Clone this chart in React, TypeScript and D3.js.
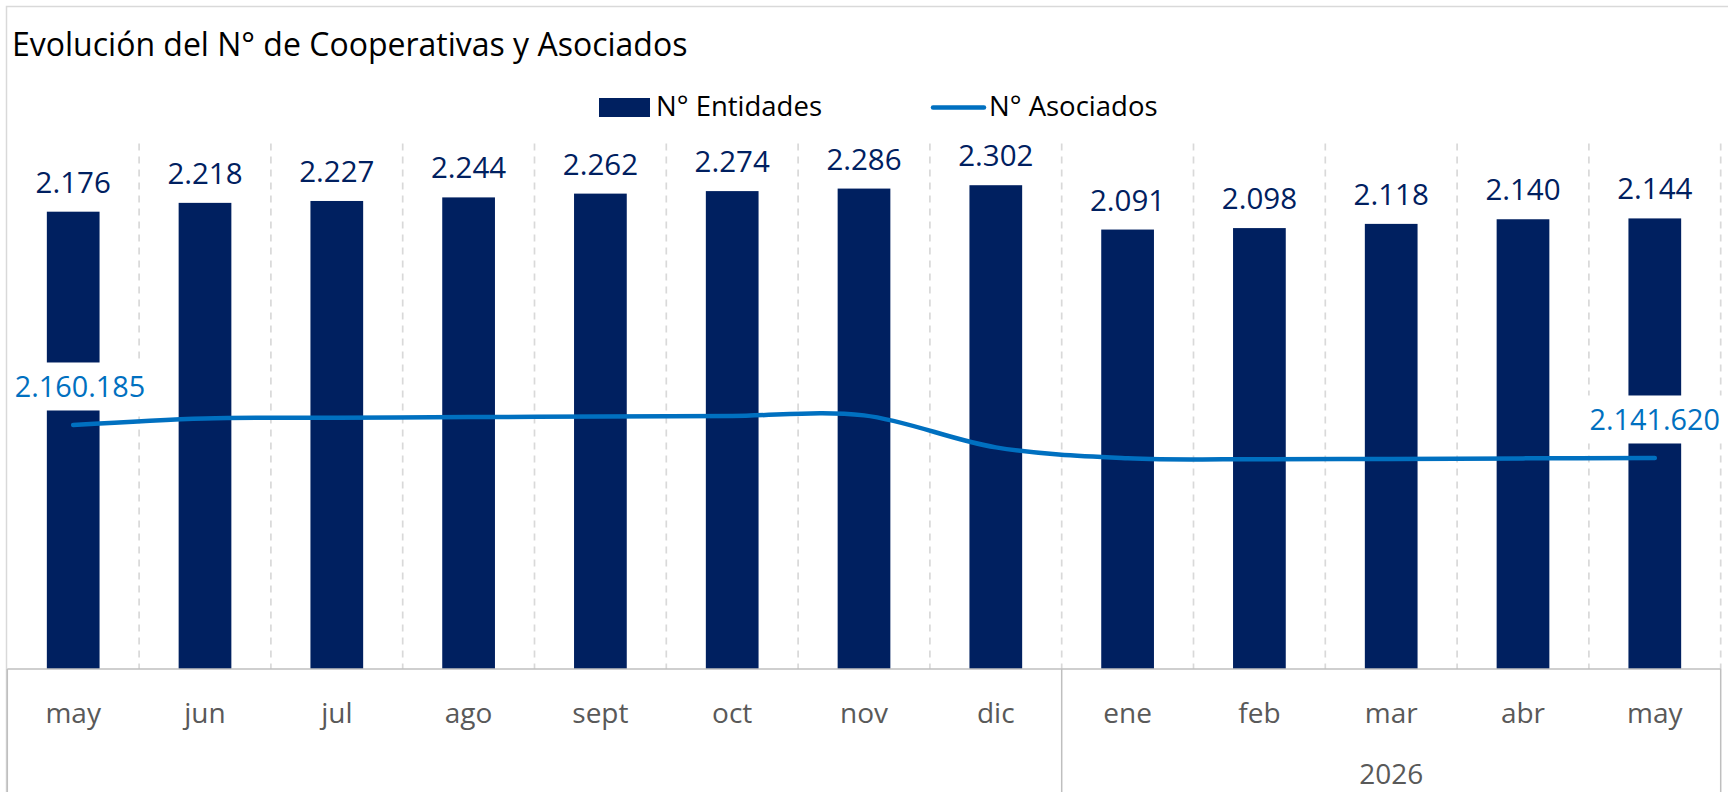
import React from 'react';
import * as d3 from 'd3';

const months = ['may', 'jun', 'jul', 'ago', 'sept', 'oct', 'nov', 'dic', 'ene', 'feb', 'mar', 'abr', 'may'];
const entidades = [2176, 2218, 2227, 2244, 2262, 2274, 2286, 2302, 2091, 2098, 2118, 2140, 2144];
const asociados = [2160185, 2163900, 2164300, 2164650, 2164900, 2165250, 2165600, 2147600, 2141500, 2140900, 2141100, 2141400, 2141620];
const yearGroups = [
  { label: '', start: 0, end: 7 },
  { label: '2026', start: 8, end: 12 },
];
const labeledPoints = [0, 12];
const title = 'Evolución del N° de Cooperativas y Asociados';
const legendBar = 'N° Entidades';
const legendLine = 'N° Asociados';

const W = 1728;
const H = 792;
const FONT = "'Open Sans', 'Noto Sans', sans-serif";
const NAVY = '#002060';
const BLUE = '#0070C0';

const fmt = d3.formatLocale({ decimal: ',', thousands: '.', grouping: [3], currency: ['', ''] }).format(',d');

export default function App() {
  const left = 7.3;
  const right = 1720.7;
  const top = 143.6;
  const bottom = 669;
  const idx = months.map((_, i) => i);

  const x = d3.scaleBand<number>().domain(idx).range([left, right]).paddingInner(0.6).paddingOuter(0.3);
  const xb = d3.scaleBand<number>().domain(idx).range([left, right]).padding(0);
  const y = d3.scaleLinear().domain([0, 2500]).range([bottom, top]);
  const y2 = d3.scaleLinear().domain([2022900, 2318500]).range([bottom, top]);
  const bw = x.bandwidth();
  const cx = (i: number) => (x(i) as number) + bw / 2;

  const line = d3
    .line<number>()
    .x((_, i) => cx(i))
    .y((d) => y2(d))
    .curve(d3.curveCardinal.tension(0));

  const boundaries = idx.slice(1).map((i) => xb(i) as number).concat([right]);
  const dividers = yearGroups.map((g) => xb(g.start) as number).concat([right]);

  const labelBoxW = 140;
  return (
    <svg width={W} height={H} style={{ position: 'absolute', left: 0, top: 0, background: '#fff' }} fontFamily={FONT}>
      <rect x={0} y={0} width={W} height={H} fill="#fff" />
      <rect x={6.5} y={6.5} width={W + 100} height={H + 100} fill="none" stroke="#d9d9d9" strokeWidth={1.5} />
      <text x={12} y={56} fontSize={32} fill="#000">{title}</text>

      {/* legend */}
      <rect x={599} y={98} width={51} height={19} fill={NAVY} />
      <text x={656} y={116} fontSize={27.5} fill="#000">{legendBar}</text>
      <line x1={933} x2={984} y1={107.5} y2={107.5} stroke={BLUE} strokeWidth={4.5} strokeLinecap="round" />
      <text x={989} y={116} fontSize={27.5} fill="#000">{legendLine}</text>

      {/* gridlines */}
      {boundaries.map((bx, i) => (
        <line key={'g' + i} x1={bx} x2={bx} y1={top} y2={bottom} stroke="#d9d9d9" strokeWidth={1.7} strokeDasharray="7,6" />
      ))}

      {/* bars */}
      {entidades.map((v, i) => (
        <rect key={'b' + i} x={x(i)} y={y(v)} width={bw} height={bottom - y(v)} fill={NAVY} />
      ))}

      {/* bar labels */}
      {entidades.map((v, i) => (
        <text key={'bl' + i} x={cx(i)} y={y(v) - 19} fontSize={29.5} fill={NAVY} textAnchor="middle">
          {fmt(v)}
        </text>
      ))}

      {/* line */}
      <path d={line(asociados) || ''} fill="none" stroke={BLUE} strokeWidth={4.5} strokeLinecap="round" strokeLinejoin="round" />

      {/* line labels */}
      {labeledPoints.map((i) => {
        const py = y2(asociados[i]);
        const base = py - 27.5;
        let lx = cx(i);
        lx = Math.max(lx, 10 + labelBoxW / 2);
        lx = Math.min(lx, W - 2 - labelBoxW / 2);
        return (
          <g key={'ll' + i}>
            <rect x={lx - labelBoxW / 2} y={base - 35} width={labelBoxW} height={48} fill="#fff" />
            <text x={lx} y={base} fontSize={28.8} fill={BLUE} textAnchor="middle">
              {fmt(asociados[i])}
            </text>
          </g>
        );
      })}

      {/* axis */}
      <line x1={left} x2={right} y1={bottom} y2={bottom} stroke="#bfbfbf" strokeWidth={1.5} />
      {dividers.map((dx, i) => (
        <line key={'d' + i} x1={dx} x2={dx} y1={bottom} y2={H + 10} stroke="#bfbfbf" strokeWidth={1.5} />
      ))}
      {months.map((m, i) => (
        <text key={'m' + i} x={cx(i)} y={723} fontSize={28} fill="#595959" textAnchor="middle">
          {m}
        </text>
      ))}
      {yearGroups.map((g, i) => (
        <text key={'y' + i} x={((xb(g.start) as number) + (g.end + 1 < months.length ? (xb(g.end + 1) as number) : right)) / 2} y={784} fontSize={28} fill="#595959" textAnchor="middle">
          {g.label}
        </text>
      ))}
    </svg>
  );
}
